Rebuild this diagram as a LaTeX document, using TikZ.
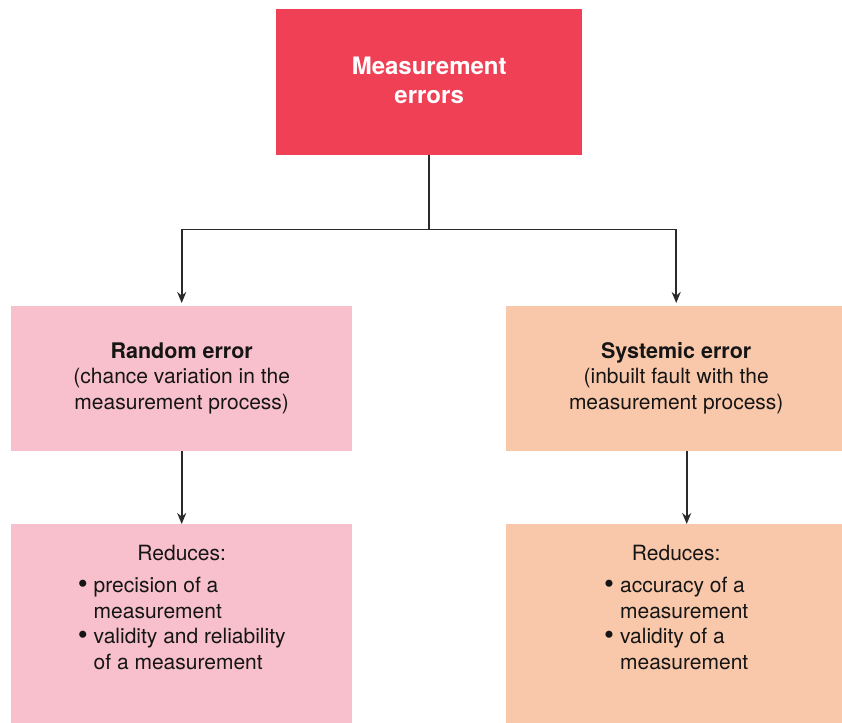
\documentclass[tikz,border=0pt]{standalone}
\usepackage{fontspec}
\setmainfont{TeX Gyre Heros}
\usetikzlibrary{arrows.meta,calc}
\definecolor{titlered}{HTML}{EF4056}
\definecolor{randpink}{HTML}{F8C0CD}
\definecolor{syspeach}{HTML}{F9C8AA}
\definecolor{linegray}{HTML}{2A2A2A}
\definecolor{inkblack}{HTML}{151515}
\newcommand{\bigdot}{\raisebox{-0.12ex}{\scalebox{1.35}{\textbullet}}}
\begin{document}
\begin{tikzpicture}[x=1pt,y=1pt,
  box/.style={draw=none,rectangle,inner sep=0pt,anchor=north west},
  bodytext/.style={align=center,text=inkblack,inner sep=0pt,
    font=\fontsize{21}{25.5}\selectfont},
  conn/.style={draw=linegray,line width=1.7pt,
    -{Stealth[length=11pt,width=9pt]}},
  plain/.style={draw=linegray,line width=1.7pt}]
\useasboundingbox (0,0) rectangle (842,722);

% boxes (top-left corner, size)
\node[box,fill=titlered,minimum width=306,minimum height=146] (top) at (276,713) {};
\node[box,fill=randpink,minimum width=341,minimum height=145] (midL) at (11,416) {};
\node[box,fill=syspeach,minimum width=336,minimum height=145] (midR) at (506,416) {};
\node[box,fill=randpink,minimum width=341,minimum height=200] (botL) at (11,198) {};
\node[box,fill=syspeach,minimum width=336,minimum height=200] (botR) at (506,198) {};

% texts
\node[align=center,text=white,inner sep=0pt,
  font=\bfseries\fontsize{24}{29}\selectfont] (topT) at ($(top.center)+(0,2)$)
  {Measurement\\errors};
\node[bodytext] (midLT) at ($(midL.center)+(0,0.5)$)
  {{\bfseries\fontsize{21.5}{25.5}\selectfont Random error}\\(chance variation in the\\measurement process)};
\node[bodytext] (midRT) at ($(midR.center)+(2,0.5)$)
  {{\bfseries\fontsize{21.5}{25.5}\selectfont Systemic error}\\(inbuilt fault with the\\measurement process)};
\node[bodytext,anchor=north] (botLT) at ($(botL.north)+(0,-21)$)
  {Reduces:\\[13pt]
   \begin{tabular}{@{}l@{\hspace{6pt}}l@{}}
   \bigdot & precision of a\\
           & measurement\\
   \bigdot & validity and reliability\\
           & of a measurement
   \end{tabular}};
\node[bodytext,anchor=north] (botRT) at ($(botR.north)+(2,-21)$)
  {Reduces:\\[13pt]
   \begin{tabular}{@{}l@{\hspace{6pt}}l@{}}
   \bigdot & accuracy of a\\
           & measurement\\
   \bigdot & validity of a\\
           & measurement
   \end{tabular}};

% connectors
\coordinate (fork) at ($(top.south)+(0,-74)$);
\coordinate (forkL) at (fork -| midL.north);
\coordinate (forkR) at ($(fork -| midR.north)+(2,0)$);
\coordinate (midRin) at ($(midR.north)+(2,0)$);
\draw[plain] (top.south) -- (fork);
\draw[plain] (forkL) -- (forkR);
\draw[conn,shorten >=3pt] (forkL) -- (midL.north);
\draw[conn,shorten >=3pt] (forkR) -- (midRin);
\coordinate (midRout) at ($(midR.south)+(12.5,0)$);
\coordinate (botRin) at ($(botR.north)+(12.5,0)$);
\draw[conn] (midL.south) -- (botL.north);
\draw[conn] (midRout) -- (botRin);
\end{tikzpicture}
\end{document}
